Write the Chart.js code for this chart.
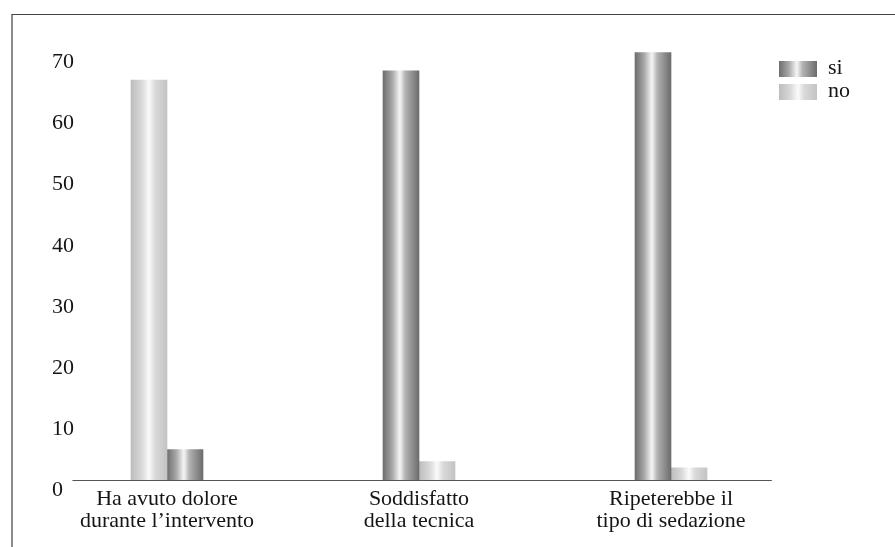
<!DOCTYPE html>
<html>
<head>
<title>Sedazione - questionario</title>
<script src="https://cdn.jsdelivr.net/npm/chart.js"></script>
<style>
    body {
        margin: 0;
        background: #fff;
    }
    .wrap {
        position: relative;
        width: 895px;
        height: 547px;
    }
    .frame {
        position: absolute;
        left: 11px;
        top: 14px;
        right: 0;
        bottom: 0;
        border-top: 1px solid #444;
        border-left: 2px solid #8a8a8a;
        pointer-events: none;
    }
</style>
</head>
<body>
<div class="wrap">
    <canvas id="myChart" width="895" height="547"></canvas>
    <div class="frame"></div>
</div>
<script>
const categories = [
    ['Ha avuto dolore', 'durante l\u2019intervento'],
    ['Soddisfatto', 'della tecnica'],
    ['Ripeterebbe il', 'tipo di sedazione']
];
const seriesNames = ['si', 'no'];
const siValues = [5, 67, 70];
const noValues = [65.5, 3, 2];
// answer drawn in the left slot of each group
const leftAnswer = ['no', 'si', 'si'];
const yTicks = [0, 10, 20, 30, 40, 50, 60, 70];

// cylinder-like shading, stops [offset, colour]
const shades = {
    si: [[0, '#6e6e6e'], [0.25, '#a6a6a6'], [0.47, '#f6f6f6'], [0.62, '#b2b2b2'], [1, '#6c6c6c']],
    no: [[0, '#bdbdbd'], [0.3, '#d9d9d9'], [0.5, '#fbfbfb'], [0.66, '#dadada'], [1, '#c3c3c3']]
};
const textColor = '#151515';
const serif = { family: '"Liberation Serif", "DejaVu Serif", serif', size: 22, lineHeight: 1.0 };

function slotAnswers(slot) {
    return leftAnswer.map(a => slot === 0 ? a : (a === 'si' ? 'no' : 'si'));
}
function slotValues(slot) {
    return slotAnswers(slot).map((a, i) => a === 'si' ? siValues[i] : noValues[i]);
}

function fillShade(ctx, kind, x0, x1) {
    const g = ctx.createLinearGradient(x0, 0, x1, 0);
    shades[kind].forEach(([o, c]) => g.addColorStop(o, c));
    return g;
}

// give every bar its gradient once its position is known
const shadePlugin = {
    id: 'shade',
    beforeDatasetsDraw(chart) {
        const ctx = chart.ctx;
        chart.data.datasets.forEach((ds, d) => {
            chart.getDatasetMeta(d).data.forEach((bar, i) => {
                const g = fillShade(ctx, ds.kinds[i], bar.x - bar.width / 2, bar.x + bar.width / 2);
                bar.options = Object.assign({}, bar.options, { backgroundColor: g });
            });
        });
    }
};

// x baseline, a bit shorter than the plot area
const baselinePlugin = {
    id: 'baseline',
    beforeDatasetsDraw(chart) {
        const { ctx, scales: { x, y } } = chart;
        const py = Math.round(y.getPixelForValue(0)) + 0.5;
        ctx.save();
        ctx.strokeStyle = '#555';
        ctx.lineWidth = 1;
        ctx.beginPath();
        ctx.moveTo(x.getPixelForValue(-0.375), py);
        ctx.lineTo(x.getPixelForValue(2.4), py);
        ctx.stroke();
        ctx.restore();
    }
};

// legend in the top right corner of the plot
const legendPlugin = {
    id: 'cornerLegend',
    afterDraw(chart) {
        const { ctx, chartArea } = chart;
        const bx = chartArea.right - 18;
        const by = chartArea.top + 39;
        ctx.save();
        ctx.font = serif.size + 'px ' + serif.family;
        ctx.textBaseline = 'middle';
        seriesNames.forEach((name, k) => {
            const y = by + k * 23;
            ctx.fillStyle = fillShade(ctx, name, bx, bx + 38);
            ctx.fillRect(bx, y, 38, 16);
            ctx.fillStyle = textColor;
            ctx.fillText(name, bx + 49, y + 7);
        });
        ctx.restore();
    }
};

const ctx = document.getElementById('myChart').getContext('2d');
new Chart(ctx, {
    type: 'bar',
    data: {
        labels: categories,
        datasets: [0, 1].map(slot => ({
            label: 'slot ' + slot,
            data: slotValues(slot),
            kinds: slotAnswers(slot),
            backgroundColor: slotAnswers(slot).map(a => a === 'si' ? '#999' : '#ddd'),
            borderWidth: 0,
            barThickness: 36
        }))
    },
    options: {
        responsive: false,
        animation: false,
        layout: { padding: { top: 22, right: 98, bottom: 0, left: 0 } },
        plugins: {
            legend: { display: false },
            tooltip: { enabled: false }
        },
        scales: {
            x: {
                grid: { display: false },
                border: { display: false },
                ticks: { font: serif, color: textColor, padding: 0, maxRotation: 0, autoSkip: false },
                afterFit: s => { s.height = 67; }
            },
            y: {
                min: 0,
                max: 75,
                grid: { display: false },
                border: { display: false },
                ticks: { font: serif, color: textColor, mirror: true, crossAlign: 'near', padding: 11, labelOffset: 10 },
                afterFit: s => { s.width = 41; },
                afterBuildTicks: s => { s.ticks = yTicks.map(v => ({ value: v })); }
            }
        }
    },
    plugins: [shadePlugin, baselinePlugin, legendPlugin]
});
</script>
</body>
</html>
